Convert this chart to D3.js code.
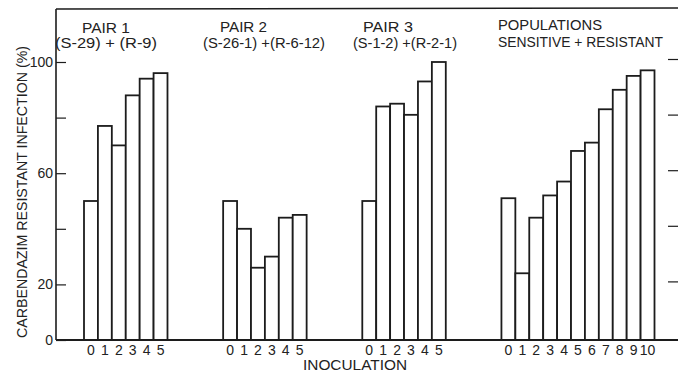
<!DOCTYPE html>
<html>
<head>
<meta charset="utf-8">
<script src="https://cdn.jsdelivr.net/npm/d3@7"></script>
<style>
  body { margin: 0; background: #fff; }
  svg { display: block; }
  text { font-family: "Liberation Sans", Arial, sans-serif; fill: #222; }
</style>
</head>
<body>
<div id="chart"></div>
<script>
// datos (% de infeccion resistente a carbendazim)
const pair1 = [50, 77, 70, 88, 94, 96];
const pair2 = [50, 40, 26, 30, 44, 45];
const pair3 = [50, 84, 85, 81, 93, 100];
const populations = [51, 24, 44, 52, 57, 68, 71, 83, 90, 95, 97];

const inoc6 = ["0", "1", "2", "3", "4", "5"];
const inoc11 = ["0", "1", "2", "3", "4", "5", "6", "7", "8", "9", "10"];

const titles1 = ["PAIR 1", "PAIR 2", "PAIR 3", "POPULATIONS"];
const titles2 = ["(S-29) + (R-9)", "(S-26-1) +(R-6-12)", "(S-1-2) +(R-2-1)", "SENSITIVE + RESISTANT"];

const yTicks = [0, 20, 40, 60, 80, 100];
const yLabels = [0, 20, 60, 100];

const yTitle = "CARBENDAZIM  RESISTANT  INFECTION (%)";
const xTitle = "INOCULATION";

// grupos: valores, etiquetas, posicion en "slots"
const groups = [
  { values: pair1, labels: inoc6, start: 0 },
  { values: pair2, labels: inoc6, start: 10 },
  { values: pair3, labels: inoc6, start: 20 },
  { values: populations, labels: inoc11, start: 30 }
];

const width = 678, height = 374;
const ink = "#1c1c1c";

const svg = d3.select("#chart").append("svg")
  .attr("width", width)
  .attr("height", height);

const y = d3.scaleLinear().domain([0, 100]).range([340, 62]);
const slot = d3.scaleLinear().domain([0, 41]).range([84, 654.5]);

// marco superior e izquierdo
svg.append("line")
  .attr("x1", 56).attr("x2", width).attr("y1", 9).attr("y2", 8)
  .attr("stroke", ink).attr("stroke-width", 1.4);
svg.append("line")
  .attr("x1", 56).attr("x2", 56).attr("y1", 9).attr("y2", y(0))
  .attr("stroke", ink).attr("stroke-width", 1.6);

// eje izquierdo
const yAxis = svg.append("g")
  .attr("transform", "translate(56,0)")
  .call(d3.axisLeft(y).tickValues(yTicks).tickSize(-10).tickPadding(3)
    .tickFormat(d => yLabels.includes(d) ? d : ""));
yAxis.select(".domain").remove();
yAxis.selectAll("line").attr("stroke", ink).attr("stroke-width", 1.2);
yAxis.selectAll("text").attr("font-size", 14).attr("fill", "#222");

// eje derecho (solo marcas)
const yAxisR = svg.append("g")
  .attr("transform", `translate(${width},-3)`)
  .call(d3.axisRight(y).tickValues(yTicks.slice(1)).tickSize(-10).tickFormat(""));
yAxisR.select(".domain").remove();
yAxisR.selectAll("line").attr("stroke", ink).attr("stroke-width", 1.2);

// barras por grupo
groups.forEach(g => {
  const x = d3.scaleBand()
    .domain(g.labels)
    .range([slot(g.start), slot(g.start + g.labels.length)])
    .padding(0);

  svg.append("g").selectAll("rect")
    .data(g.values)
    .join("rect")
    .attr("x", (d, i) => x(g.labels[i]))
    .attr("y", d => y(d))
    .attr("width", x.bandwidth())
    .attr("height", d => y(0) - y(d))
    .attr("fill", "#fff")
    .attr("stroke", ink)
    .attr("stroke-width", 1.8);

  const ax = svg.append("g")
    .attr("transform", `translate(0,${y(0)})`)
    .call(d3.axisBottom(x).tickSize(0).tickPadding(5));
  ax.select(".domain").remove();
  ax.selectAll("text").attr("font-size", 14).attr("fill", "#222");
});

// linea base
svg.append("line")
  .attr("x1", 56).attr("x2", width).attr("y1", y(0)).attr("y2", y(0))
  .attr("stroke", ink).attr("stroke-width", 1.8);

// titulos de grupo
const t1Pos = [[106, 33, 48], [243.5, 32, 47], [388, 32, 50], [498, 30, 104]];
const t2Pos = [[106, 48, 102], [264, 48, 122], [405, 48, 104], [498, 47, 165]];

titles1.forEach((t, i) => {
  const p = t1Pos[i];
  svg.append("text")
    .attr("x", p[0]).attr("y", p[1])
    .attr("text-anchor", i === 3 ? "start" : "middle")
    .attr("font-size", 14)
    .attr("textLength", p[2]).attr("lengthAdjust", "spacingAndGlyphs")
    .text(t);
});
titles2.forEach((t, i) => {
  const p = t2Pos[i];
  svg.append("text")
    .attr("x", p[0]).attr("y", p[1])
    .attr("text-anchor", i === 3 ? "start" : "middle")
    .attr("font-size", 14)
    .attr("textLength", p[2]).attr("lengthAdjust", "spacingAndGlyphs")
    .text(t);
});

// titulos de ejes
svg.append("text")
  .attr("transform", "translate(27,192) rotate(-90)")
  .attr("text-anchor", "middle")
  .attr("font-size", 15)
  .attr("textLength", 292).attr("lengthAdjust", "spacingAndGlyphs")
  .text(yTitle);

svg.append("text")
  .attr("x", 355).attr("y", 370)
  .attr("text-anchor", "middle")
  .attr("font-size", 14)
  .attr("textLength", 104).attr("lengthAdjust", "spacingAndGlyphs")
  .text(xTitle);
</script>
</body>
</html>
